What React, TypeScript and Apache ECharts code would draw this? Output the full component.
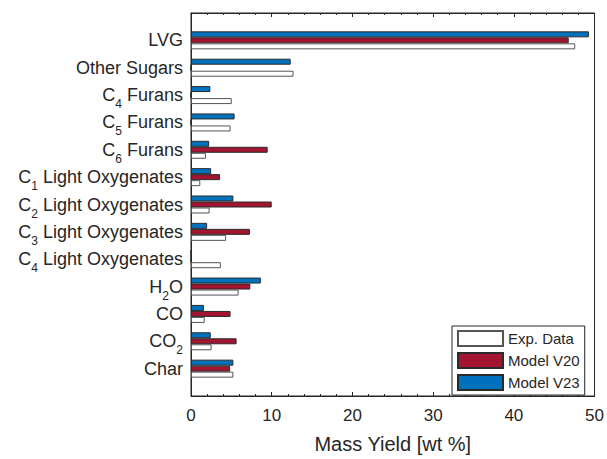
import React, { useEffect, useRef } from "react";
import * as echarts from "echarts";

// Product categories; "_n" marks a subscript digit in the label.
const categories = [
  "LVG",
  "Other Sugars",
  "C_4 Furans",
  "C_5 Furans",
  "C_6 Furans",
  "C_1 Light Oxygenates",
  "C_2 Light Oxygenates",
  "C_3 Light Oxygenates",
  "C_4 Light Oxygenates",
  "H_2O",
  "CO",
  "CO_2",
  "Char",
];

// Mass yields in wt %
const expData = [47.6, 12.7, 5.05, 4.9, 1.85, 1.15, 2.3, 4.35, 3.7, 5.9, 1.7, 2.55, 5.25];
const modelV20 = [46.8, 0, 0, 0, 9.5, 3.6, 10.0, 7.3, 0, 7.35, 4.9, 5.65, 4.85];
const modelV23 = [49.3, 12.35, 2.4, 5.4, 2.25, 2.5, 5.25, 2.0, 0, 8.65, 1.6, 2.45, 5.25];

const xTicks = { min: 0, max: 50, interval: 10 };

const FONT = "'Liberation Sans', Arial, Helvetica, sans-serif";
const INK = "#262626";

// Empty slots above and below keep a half-step margin inside the frame.
const padded = (arr: number[]) => [null, ...arr, null];
const yCategories = ["", ...categories, ""];

function toRich(label: string): string {
  if (!label) return "";
  const parts = label.split(/_(\d)/);
  return parts
    .map((p, i) => (i % 2 === 1 ? `{s|${p}}` : p ? `{m|${p}}` : ""))
    .join("");
}

export default function App() {
  const ref = useRef<HTMLDivElement>(null);

  useEffect(() => {
    if (!ref.current) return;
    const chart = echarts.init(ref.current, null, { renderer: "svg" });

    const barBase = {
      type: "bar" as const,
      barWidth: 6,
      barGap: "0%",
      xAxisIndex: 0,
      yAxisIndex: 0,
    };

    chart.setOption({
      animation: false,
      backgroundColor: "#ffffff",
      textStyle: { fontFamily: FONT },
      grid: {
        left: 191,
        right: 11,
        top: 13,
        bottom: 57,
        show: true,
        borderColor: INK,
        borderWidth: 1,
        backgroundColor: "transparent",
      },
      legend: {
        data: ["Exp. Data", "Model V20", "Model V23"],
        orient: "vertical",
        left: 452,
        top: 326,
        itemWidth: 45,
        itemHeight: 15,
        itemGap: 5,
        padding: [4, 5, 4, 5],
        borderColor: INK,
        borderWidth: 1,
        backgroundColor: "#ffffff",
        selectedMode: false,
        icon: "rect",
        textStyle: { fontFamily: FONT, fontSize: 15, color: INK, lineHeight: 15 },
      },
      xAxis: [
        {
          type: "value",
          position: "bottom",
          ...xTicks,
          name: "Mass Yield [wt %]",
          nameLocation: "middle",
          nameGap: 38,
          nameTextStyle: { fontFamily: FONT, fontSize: 20, color: INK },
          axisLine: { show: true, lineStyle: { color: INK, width: 1 } },
          axisTick: { show: true, inside: true, length: 4, lineStyle: { color: INK } },
          minorTick: { show: true, splitNumber: 5, length: 2, lineStyle: { color: INK } },
          splitLine: { show: false },
          axisLabel: { fontFamily: FONT, fontSize: 17, color: INK, margin: 11 },
        },
        {
          type: "value",
          position: "top",
          ...xTicks,
          axisLine: { show: true, lineStyle: { color: INK, width: 1 } },
          axisTick: { show: true, inside: true, length: 4, lineStyle: { color: INK } },
          minorTick: { show: true, splitNumber: 5, length: 2, lineStyle: { color: INK } },
          splitLine: { show: false },
          axisLabel: { show: false },
        },
      ],
      yAxis: {
        type: "category",
        inverse: true,
        boundaryGap: false,
        data: yCategories,
        axisLine: { show: true, lineStyle: { color: INK, width: 1 } },
        axisTick: { show: false },
        splitLine: { show: false },
        axisLabel: {
          margin: 8,
          formatter: (v: string) => toRich(v),
          rich: {
            m: {
              fontFamily: FONT,
              fontSize: 18,
              color: INK,
              lineHeight: 30,
              verticalAlign: "middle",
            },
            s: {
              fontFamily: FONT,
              fontSize: 12,
              color: INK,
              lineHeight: 12,
              verticalAlign: "bottom",
            },
          },
        },
      },
      series: [
        {
          ...barBase,
          name: "Model V23",
          data: padded(modelV23),
          itemStyle: { color: "#0072BD", borderColor: "#2b2b2b", borderWidth: 1 },
        },
        {
          ...barBase,
          name: "Model V20",
          data: padded(modelV20),
          itemStyle: { color: "#A2142F", borderColor: "#2b2b2b", borderWidth: 1 },
        },
        {
          ...barBase,
          name: "Exp. Data",
          data: padded(expData),
          itemStyle: { color: "#ffffff", borderColor: "#555555", borderWidth: 1 },
        },
      ],
    });

    return () => chart.dispose();
  }, []);

  return (
    <div
      ref={ref}
      style={{ position: "fixed", left: 0, top: 0, width: 607, height: 459 }}
    />
  );
}
